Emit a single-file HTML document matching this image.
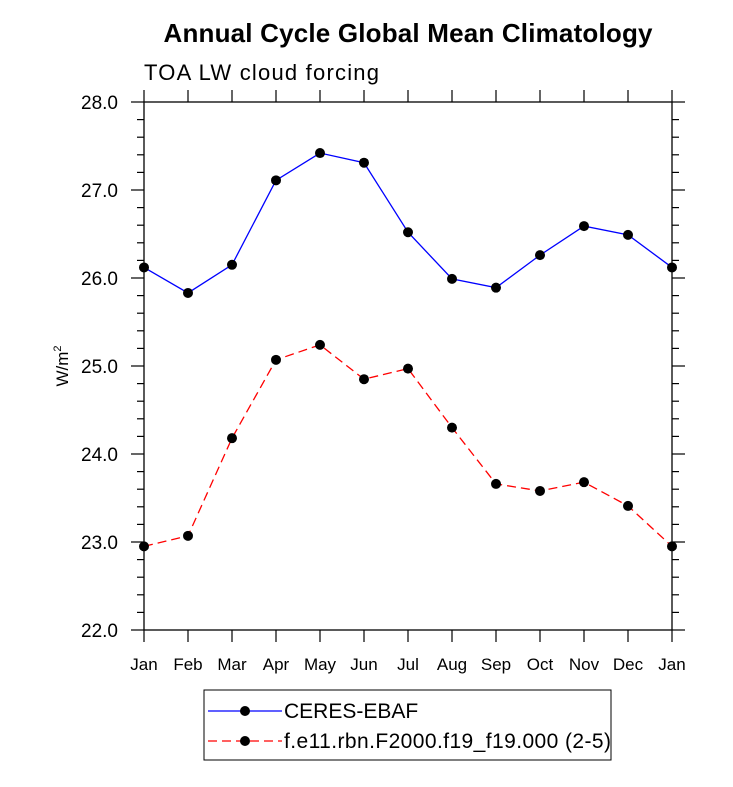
<!DOCTYPE html>
<html><head><meta charset="utf-8"><style>
body{margin:0;background:#fff;font-family:"Liberation Sans",sans-serif}
</style></head><body>
<svg id="chart" width="733" height="782" xmlns="http://www.w3.org/2000/svg">
<text x="408" y="42" text-anchor="middle" font-size="26" font-weight="bold" textLength="489">Annual Cycle Global Mean Climatology</text>
<text x="144" y="80" font-size="22" textLength="235">TOA LW cloud forcing</text>
<text transform="translate(68,366) rotate(-90)" text-anchor="middle" font-size="17">W/m<tspan font-size="11" dy="-7">2</tspan></text>
<g id="axes"></g><g id="series"></g>
<rect x="204" y="690" width="407" height="70" fill="none" stroke="#000" stroke-width="1"/>
<g>
<line x1="208" y1="711" x2="282" y2="711" stroke="#00f" stroke-width="1.3"/><circle cx="245" cy="711" r="5"/>
<text x="284" y="718" font-size="21">CERES-EBAF</text></g>
<g>
<line x1="208" y1="741" x2="282" y2="741" stroke="#f00" stroke-width="1.3" stroke-dasharray="9,5"/><circle cx="245" cy="741" r="5"/>
<text x="284" y="748" font-size="21" textLength="327">f.e11.rbn.F2000.f19_f19.000 (2-5)</text></g>
</svg>
<script>
const months=["Jan","Feb","Mar","Apr","May","Jun","Jul","Aug","Sep","Oct","Nov","Dec","Jan"];
const ceres=[26.12,25.83,26.15,27.11,27.42,27.31,26.52,25.99,25.89,26.26,26.59,26.49,26.12];
const model=[22.95,23.07,24.18,25.07,25.24,24.85,24.97,24.30,23.66,23.58,23.68,23.41,22.95];
const yTicks=[22,23,24,25,26,27,28];
const yLabels=["22.0","23.0","24.0","25.0","26.0","27.0","28.0"];
const X0=144,X1=672,Y0=630,Y1=102,ymin=22,ymax=28;
const xs=i=>X0+i*(X1-X0)/(months.length-1);
const ys=v=>Y0-(v-ymin)*(Y0-Y1)/(ymax-ymin);
const NS="http://www.w3.org/2000/svg";
const ax=document.getElementById('axes'),se=document.getElementById('series');
function mk(tag,at,par){const e=document.createElementNS(NS,tag);for(const k in at)e.setAttribute(k,at[k]);par.appendChild(e);return e;}
const fr=mk('rect',{x:X0,y:Y1,width:X1-X0,height:Y0-Y1,fill:'none',stroke:'#000','stroke-width':1.3},ax);


months.forEach((m,i)=>{const x=xs(i);
mk('line',{x1:x,y1:Y0,x2:x,y2:Y0+12,stroke:'#000','stroke-width':1.2},ax);
mk('line',{x1:x,y1:Y1,x2:x,y2:Y1-12,stroke:'#000','stroke-width':1.2},ax);
const t=mk('text',{x:x,y:Y0+40,'text-anchor':'middle','font-size':17},ax);t.textContent=m;

});
for(let v=ymin;v<=ymax+1e-9;v+=0.2){const y=ys(v);const major=Math.abs(v-Math.round(v))<1e-6;const L=major?13:7;
mk('line',{x1:X0,y1:y,x2:X0-L,y2:y,stroke:'#000','stroke-width':1.2},ax);
mk('line',{x1:X1,y1:y,x2:X1+L,y2:y,stroke:'#000','stroke-width':1.2},ax);}
yTicks.forEach((v,i)=>{const t=mk('text',{x:X0-26,y:ys(v)+7,'text-anchor':'end','font-size':19},ax);t.textContent=yLabels[i];

});
function series(vals,color,dash,name){
const g=mk('g',{},se);


const a={points:vals.map((v,i)=>xs(i)+','+ys(v)).join(' '),fill:'none',stroke:color,'stroke-width':1.3};
if(dash)a['stroke-dasharray']=dash;mk('polyline',a,g);
vals.forEach((v,i)=>{const c=mk('circle',{cx:xs(i),cy:ys(v),r:5,fill:'#000'},g);

});}
series(ceres,'#00f',null,'series-ceres-ebaf');
series(model,'#f00','9,5','series-model');
</script>
</body></html>
